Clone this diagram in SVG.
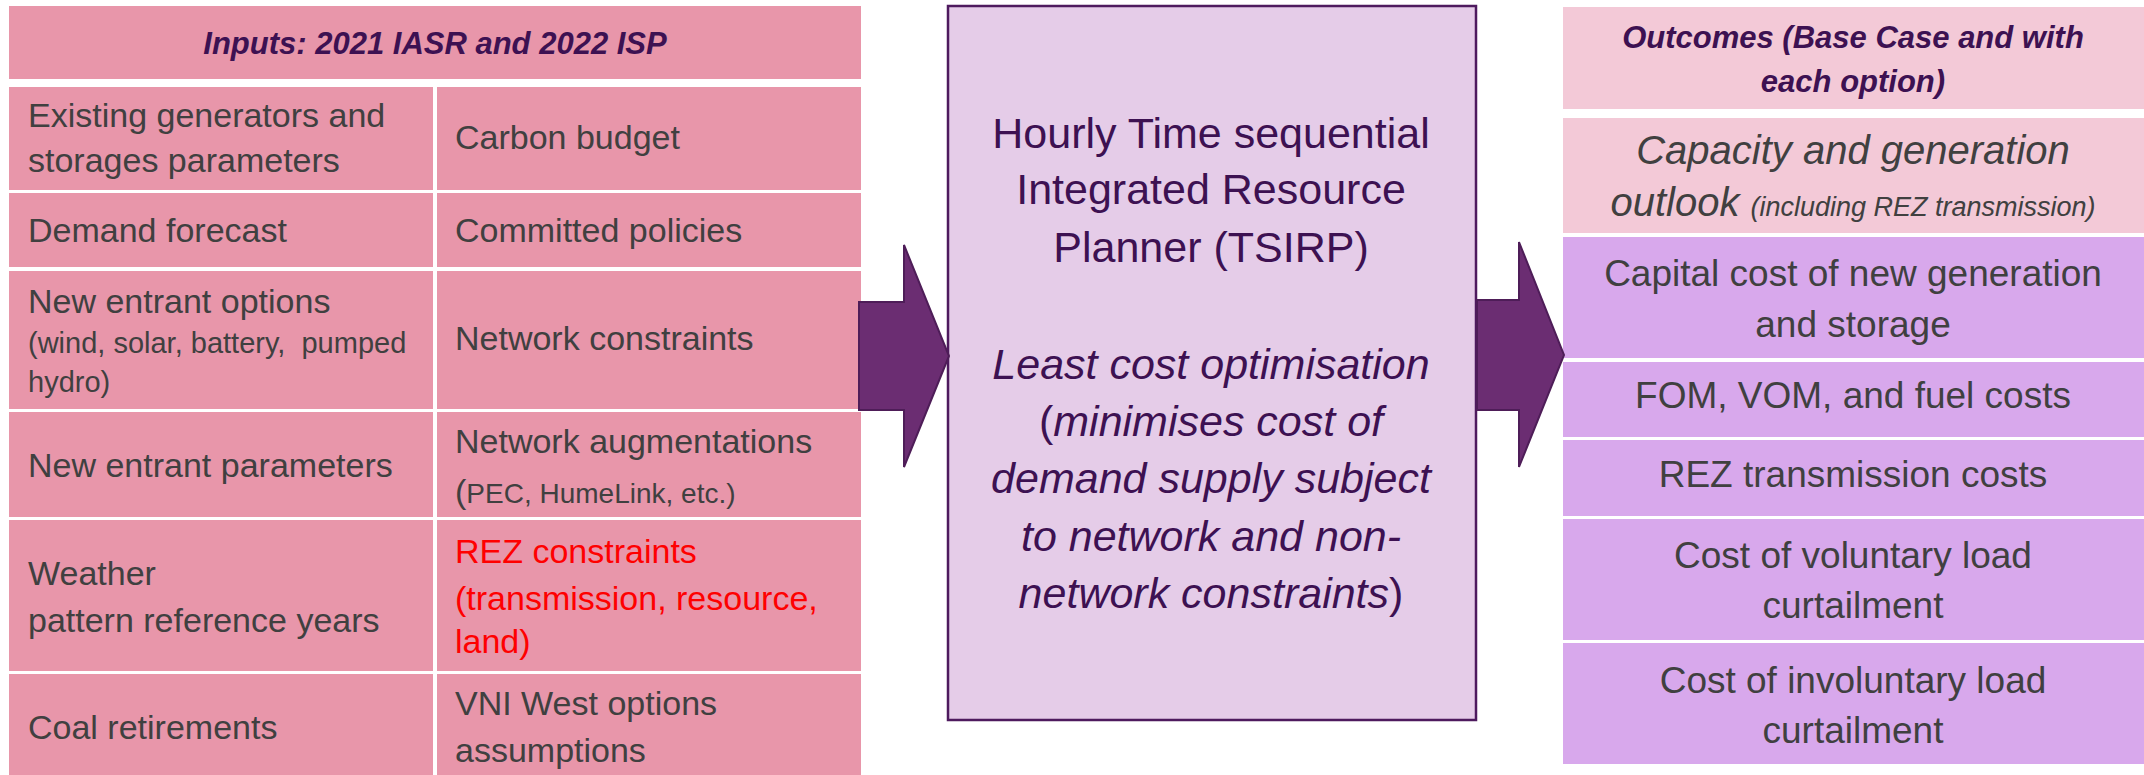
<svg xmlns="http://www.w3.org/2000/svg" width="2144" height="775" viewBox="0 0 2144 775">
  <style>
    text { font-family: "Liberation Sans", Arial, sans-serif; }
    .in { fill: #e896aa; }
    .outHead { fill: #f3c9d7; }
    .outRow { fill: #d8a8ec; }
    .body { fill: #404040; font-size: 34px; }
    .small { font-size: 28px; }
    .note { font-size: 29px; }
    .red { fill: #ff0000; }
    .head { fill: #3d1152; font-weight: bold; font-style: italic; font-size: 31px; }
    .mid { fill: #3d1152; font-size: 43px; text-anchor: middle; }
    .it { font-style: italic; }
    .up { font-style: normal; }
    .out { fill: #404040; font-size: 37px; text-anchor: middle; }
    .outBig { font-size: 40px; }
    .outSmall { font-size: 27px; }
    .arrow { fill: #6b2d72; stroke: #4e1d58; stroke-width: 2; stroke-linejoin: miter; }
  </style>

  <rect width="2144" height="775" fill="#ffffff"/>

  <!-- Inputs table -->
  <g id="inputs">
    <rect class="in" x="9" y="6" width="852" height="73"/>
    <text class="head" x="435" y="54" text-anchor="middle">Inputs: 2021 IASR and 2022 ISP</text>

    <g id="in-existing">
      <rect class="in" x="9" y="87" width="424" height="103"/>
      <text class="body" x="28" y="127">Existing generators and</text>
      <text class="body" x="28" y="172">storages parameters</text>
    </g>
    <g id="in-carbon">
      <rect class="in" x="437" y="87" width="424" height="103"/>
      <text class="body" x="455" y="149">Carbon budget</text>
    </g>

    <g id="in-demand">
      <rect class="in" x="9" y="193" width="424" height="74"/>
      <text class="body" x="28" y="242">Demand forecast</text>
    </g>
    <g id="in-policies">
      <rect class="in" x="437" y="193" width="424" height="74"/>
      <text class="body" x="455" y="242">Committed policies</text>
    </g>

    <g id="in-entrant-options">
      <rect class="in" x="9" y="271" width="424" height="138"/>
      <text class="body" x="28" y="313">New entrant options</text>
      <text class="body note" x="28" y="353">(wind, solar, battery,&#160; pumped</text>
      <text class="body note" x="28" y="392">hydro)</text>
    </g>
    <g id="in-network">
      <rect class="in" x="437" y="271" width="424" height="138"/>
      <text class="body" x="455" y="350">Network constraints</text>
    </g>

    <g id="in-entrant-params">
      <rect class="in" x="9" y="412" width="424" height="105"/>
      <text class="body" x="28" y="477">New entrant parameters</text>
    </g>
    <g id="in-augmentations">
      <rect class="in" x="437" y="412" width="424" height="105"/>
      <text class="body" x="455" y="453">Network augmentations</text>
      <text class="body" x="455" y="503">(<tspan class="small">PEC, HumeLink, etc.)</tspan></text>
    </g>

    <g id="in-weather">
      <rect class="in" x="9" y="520" width="424" height="151"/>
      <text class="body" x="28" y="585">Weather</text>
      <text class="body" x="28" y="632">pattern reference years</text>
    </g>
    <g id="in-rez">
      <rect class="in" x="437" y="520" width="424" height="151"/>
      <text class="body red" x="455" y="563">REZ constraints</text>
      <text class="body red" x="455" y="610">(transmission, resource,</text>
      <text class="body red" x="455" y="653">land)</text>
    </g>

    <g id="in-coal">
      <rect class="in" x="9" y="674" width="424" height="101"/>
      <text class="body" x="28" y="739">Coal retirements</text>
    </g>
    <g id="in-vni">
      <rect class="in" x="437" y="674" width="424" height="101"/>
      <text class="body" x="455" y="715">VNI West options</text>
      <text class="body" x="455" y="762">assumptions</text>
    </g>
  </g>

  <!-- Planner -->
  <g id="tsirp">
    <rect x="948" y="6" width="528" height="714" fill="#e5cce8" stroke="#4e1a5e" stroke-width="2.5"/>
    <text class="mid" x="1211" y="148">Hourly Time sequential</text>
    <text class="mid" x="1211" y="204">Integrated Resource</text>
    <text class="mid" x="1211" y="262">Planner (TSIRP)</text>
    <text class="mid it" x="1211" y="379">Least cost optimisation</text>
    <text class="mid" x="1211" y="436"><tspan class="up">(</tspan><tspan class="it">minimises cost of</tspan></text>
    <text class="mid it" x="1211" y="493">demand supply subject</text>
    <text class="mid it" x="1211" y="551">to network and non-</text>
    <text class="mid" x="1211" y="608"><tspan class="it">network constraints</tspan><tspan class="up">)</tspan></text>
  </g>

  <!-- Outcomes -->
  <g id="outcomes">
    <g id="out-head">
      <rect class="outHead" x="1563" y="7" width="581" height="102"/>
      <text class="head" x="1853" y="48" text-anchor="middle">Outcomes (Base Case and with</text>
      <text class="head" x="1853" y="92" text-anchor="middle">each option)</text>
    </g>
    <g id="out-capacity">
      <rect class="outHead" x="1563" y="118" width="581" height="115"/>
      <text class="out it outBig" x="1853" y="164">Capacity and generation</text>
      <text class="out it outBig" x="1853" y="216">outlook <tspan class="outSmall">(including REZ transmission)</tspan></text>
    </g>
    <g id="out-capital">
      <rect class="outRow" x="1563" y="237" width="581" height="121"/>
      <text class="out" x="1853" y="286">Capital cost of new generation</text>
      <text class="out" x="1853" y="337">and storage</text>
    </g>
    <g id="out-fom">
      <rect class="outRow" x="1563" y="362" width="581" height="75"/>
      <text class="out" x="1853" y="408">FOM, VOM, and fuel costs</text>
    </g>
    <g id="out-rez">
      <rect class="outRow" x="1563" y="440" width="581" height="76"/>
      <text class="out" x="1853" y="487">REZ transmission costs</text>
    </g>
    <g id="out-voluntary">
      <rect class="outRow" x="1563" y="519" width="581" height="121"/>
      <text class="out" x="1853" y="568">Cost of voluntary load</text>
      <text class="out" x="1853" y="618">curtailment</text>
    </g>
    <g id="out-involuntary">
      <rect class="outRow" x="1563" y="643" width="581" height="121"/>
      <text class="out" x="1853" y="693">Cost of involuntary load</text>
      <text class="out" x="1853" y="743">curtailment</text>
    </g>
  </g>

  <!-- Block arrows between stages -->
  <g id="connectors">
    <path class="arrow" d="M859,302 L904,302 L904,245 L949,356 L904,467 L904,410 L859,410 Z"/>
    <path class="arrow" d="M1477,300 L1519,300 L1519,242 L1564,355 L1519,467 L1519,410 L1477,410 Z"/>
  </g>
</svg>
